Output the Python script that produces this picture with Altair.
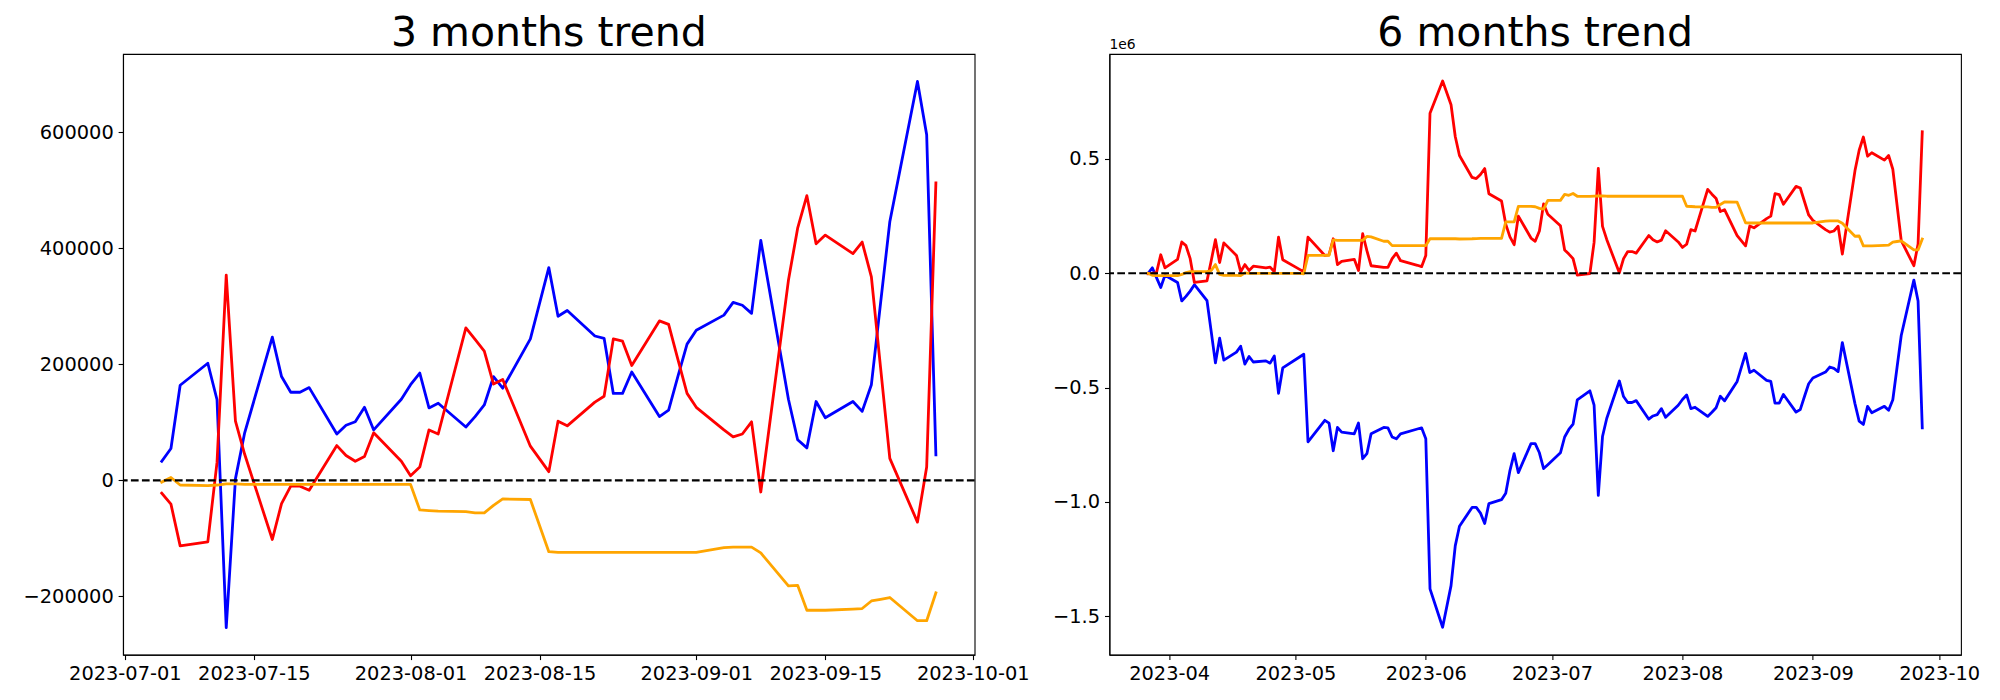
import altair as alt
import pandas as pd

# ---------------- 3 months (values in units) ----------------
days_3m = {
    "2023-07": [5, 6, 7, 10, 11, 12, 13, 14, 17, 18, 19, 20, 21, 24, 25, 26, 27, 28, 31],
    "2023-08": [1, 2, 3, 4, 7, 8, 9, 10, 11, 14, 16, 17, 18, 21, 22, 23, 24, 25, 28, 29, 30, 31],
    "2023-09": [1, 4, 5, 6, 7, 8, 11, 12, 13, 14, 15, 18, 19, 20, 21, 22, 25, 26, 27],
}
blue_3m_k = [33, 55, 164, 202, 139, -254, 3, 82, 247, 179, 152, 152, 160, 80, 95, 101, 126, 87, 140,
             165, 185, 125, 133, 92, 110, 130, 179, 159, 244, 367, 283, 293, 249, 245, 150, 150, 187, 110, 121, 179, 235,
             259, 285, 307, 302, 288, 414, 140, 70, 56, 136, 108, 136, 119, 165, 306, 446, 688, 596, 44]
red_3m_k = [-22, -41, -113, -106, 31, 354, 102, 45, -102, -40, -10, -10, -17, 60, 43, 33, 41, 82, 33,
            8, 23, 87, 80, 263, 243, 223, 166, 174, 59, 15, 102, 94, 135, 145, 244, 240, 198, 275, 269, 209, 150,
            126, 87, 75, 80, 101, -20, 345, 435, 491, 408, 423, 391, 411, 351, 194, 38, -72, 23, 513]
orange_3m_k = [-3, 5, -8, -9, -8, -6, -6, -7, -7, -7, -7, -7, -7, -7, -7, -7, -7, -7, -7,
               -7, -51, -52, -53, -54, -56, -56, -43, -32, -33, -123, -124, -124, -124, -124, -124, -124, -124, -124, -124, -124, -124,
               -124, -116, -115, -115, -115, -125, -182, -181, -224, -224, -224, -222, -221, -208, -205, -202, -242, -242, -194]
yticks_3m = [-200000, 0, 200000, 400000, 600000]
xticks_3m = ["2023-07-01", "2023-07-15", "2023-08-01", "2023-08-15", "2023-09-01", "2023-09-15", "2023-10-01"]

# ---------------- 6 months (values in 1e6) ----------------
days_6m = {
    "2023-03": [27, 28, 29, 30, 31],
    "2023-04": [3, 4, 5, 6, 7, 10, 11, 12, 13, 14, 17, 18, 19, 20, 21, 24, 25, 26, 27, 28],
    "2023-05": [2, 3, 4, 8, 9, 10, 11, 12, 15, 16, 17, 18, 19, 22, 23, 24, 25, 26, 30, 31],
    "2023-06": [1, 2, 5, 7, 8, 9, 12, 13, 14, 15, 16, 19, 20, 21, 22, 23, 26, 27, 28, 29, 30],
    "2023-07": [3, 4, 5, 6, 7, 10, 11, 12, 13, 14, 17, 18, 19, 20, 21, 24, 25, 26, 27, 28, 31],
    "2023-08": [1, 2, 3, 4, 7, 8, 9, 10, 11, 14, 16, 17, 18, 21, 22, 23, 24, 25, 28, 29, 30, 31],
    "2023-09": [1, 4, 5, 6, 7, 8, 11, 12, 13, 14, 15, 18, 19, 20, 21, 22, 25, 26, 27],
}
blue_6m = [0.000, 0.024, -0.019, -0.062, -0.009,
           -0.040, -0.121, -0.101, -0.078, -0.050, -0.120, -0.255, -0.392, -0.284, -0.380, -0.345, -0.319, -0.397, -0.364, -0.388, -0.383, -0.393, -0.362, -0.525, -0.414,
           -0.366, -0.354, -0.737, -0.643, -0.655, -0.776, -0.674, -0.695, -0.702, -0.655, -0.811, -0.789, -0.702, -0.674, -0.676, -0.716, -0.724, -0.702, -0.681, -0.676,
           -0.724, -1.380, -1.548, -1.366, -1.192, -1.106, -1.024, -1.024, -1.049, -1.094, -1.007, -0.990, -0.962, -0.863, -0.789, -0.872, -0.745, -0.745, -0.785, -0.854, -0.837,
           -0.785, -0.716, -0.683, -0.660, -0.554, -0.514, -0.577, -0.971, -0.714, -0.635, -0.471, -0.539, -0.565, -0.565, -0.557, -0.638, -0.624, -0.618, -0.592, -0.630, -0.577,
           -0.552, -0.532, -0.592, -0.586, -0.626, -0.608, -0.588, -0.538, -0.558, -0.473, -0.350, -0.434, -0.424, -0.468, -0.473, -0.568, -0.568, -0.530, -0.607, -0.596, -0.539, -0.483,
           -0.458, -0.432, -0.410, -0.416, -0.430, -0.303, -0.570, -0.647, -0.661, -0.582, -0.610, -0.582, -0.599, -0.553, -0.412, -0.272, -0.030, -0.121, -0.676]
red_6m = [-0.002, 0.000, 0.003, 0.081, 0.024,
          0.061, 0.137, 0.121, 0.064, -0.040, -0.033, 0.055, 0.147, 0.047, 0.133, 0.078, 0.007, 0.038, 0.012, 0.031, 0.024, 0.027, 0.007, 0.158, 0.059,
          0.017, 0.007, 0.158, 0.078, 0.081, 0.151, 0.038, 0.052, 0.061, 0.012, 0.173, 0.099, 0.033, 0.026, 0.026, 0.064, 0.088, 0.055, 0.035, 0.029,
          0.078, 0.700, 0.841, 0.737, 0.598, 0.515, 0.419, 0.414, 0.432, 0.458, 0.348, 0.316, 0.215, 0.159, 0.125, 0.250, 0.154, 0.140, 0.185, 0.303, 0.258,
          0.208, 0.102, 0.084, 0.064, -0.008, -0.001, 0.135, 0.459, 0.205, 0.148, 0.002, 0.064, 0.095, 0.095, 0.088, 0.165, 0.147, 0.137, 0.145, 0.186, 0.137,
          0.113, 0.127, 0.191, 0.185, 0.367, 0.346, 0.327, 0.270, 0.278, 0.165, 0.120, 0.207, 0.199, 0.239, 0.250, 0.348, 0.344, 0.302, 0.380, 0.373, 0.314, 0.255,
          0.231, 0.191, 0.180, 0.185, 0.206, 0.084, 0.448, 0.538, 0.596, 0.512, 0.527, 0.495, 0.515, 0.455, 0.299, 0.143, 0.033, 0.128, 0.619]
orange_6m = [0.000, -0.009, -0.010, -0.010, -0.010,
             -0.010, -0.005, 0.003, 0.007, 0.007, 0.007, 0.012, 0.038, -0.005, -0.009, -0.009, -0.010, 0.002, 0.000, 0.000, 0.000, 0.000, 0.000, 0.000, 0.000,
             0.000, -0.002, 0.078, 0.078, 0.078, 0.146, 0.144, 0.144, 0.144, 0.144, 0.144, 0.161, 0.159, 0.140, 0.140, 0.121, 0.121, 0.121, 0.121, 0.121,
             0.121, 0.151, 0.152, 0.151, 0.151, 0.150, 0.151, 0.152, 0.153, 0.153, 0.153, 0.153, 0.225, 0.225, 0.225, 0.293, 0.293, 0.291, 0.284, 0.281, 0.319,
             0.319, 0.345, 0.341, 0.349, 0.337, 0.336, 0.337, 0.338, 0.338, 0.337, 0.337, 0.337, 0.337, 0.337, 0.337, 0.337, 0.337, 0.337, 0.337, 0.337, 0.337,
             0.337, 0.293, 0.292, 0.291, 0.290, 0.288, 0.288, 0.301, 0.312, 0.311, 0.221, 0.220, 0.220, 0.220, 0.220, 0.220, 0.220, 0.220, 0.220, 0.220, 0.220, 0.220,
             0.220, 0.228, 0.229, 0.229, 0.229, 0.219, 0.162, 0.163, 0.120, 0.120, 0.120, 0.122, 0.123, 0.136, 0.139, 0.142, 0.102, 0.102, 0.150]
yticks_6m = [-1.5, -1.0, -0.5, 0.0, 0.5]
xticks_6m = ["2023-04-01", "2023-05-01", "2023-06-01", "2023-07-01", "2023-08-01", "2023-09-01", "2023-10-01"]

series_colors = {"blue": "#0000ff", "red": "#ff0000", "orange": "#ffa500"}

FONT = "DejaVu Sans"
PW, PH = 851.6, 600.7
LW = 2.8


def dates_from(spec):
    return [f"{m}-{d:02d}T00:00:00" for m, ds in spec.items() for d in ds]


def dt(s, h=0, mi=0):
    y, m, d = (int(v) for v in s.split("-"))
    return alt.DateTime(year=y, month=m, date=d, hours=h, minutes=mi)


def panel(dates, series, ydom, xdom, xticks, xfmt, yticks, yfmt, title, e6_opacity, ymin_extent):
    layers = []
    xenc = alt.X(
        "date:T",
        scale=alt.Scale(domain=xdom),
        axis=alt.Axis(values=[dt(t) for t in xticks], format=xfmt, title=None,
                      labelOverlap=False, labelFlush=False),
    )
    yenc = alt.Y(
        "value:Q",
        scale=alt.Scale(domain=ydom, nice=False, zero=False),
        axis=alt.Axis(values=yticks, format=yfmt, title=None, minExtent=ymin_extent),
    )
    for name, vals in series:
        assert len(vals) == len(dates), (name, len(vals), len(dates))
        df = pd.DataFrame({"date": dates, "value": vals, "series": name})
        layers.append(
            alt.Chart(df).mark_line(color=series_colors[name], strokeWidth=LW,
                                    strokeJoin="round", strokeCap="square").encode(
                x=xenc, y=yenc
            )
        )
    zero = alt.Chart(pd.DataFrame({"value": [0]})).mark_rule(
        color="black", strokeWidth=2.1, strokeDash=[7.7, 3.3]
    ).encode(y=alt.Y("value:Q"))
    layers.append(zero)
    e6 = alt.Chart(pd.DataFrame({"t": ["1e6"]})).mark_text(
        align="left", baseline="alphabetic", fontSize=13.9, font=FONT, color="black",
        opacity=e6_opacity,
    ).encode(x=alt.value(0), y=alt.value(-5), text="t:N")
    layers.append(e6)
    return alt.layer(*layers).properties(
        width=PW, height=PH,
        title=alt.TitleParams(text=title, fontSize=41, font=FONT, fontWeight="normal",
                              color="black", anchor="middle", frame="group", offset=-17),
    )


d3 = dates_from(days_3m)
d6 = dates_from(days_6m)

left = panel(
    d3,
    [("blue", [v * 1000 for v in blue_3m_k]), ("red", [v * 1000 for v in red_3m_k]),
     ("orange", [v * 1000 for v in orange_3m_k])],
    [-300600, 735300],
    [dt("2023-06-30", 19, 12), dt("2023-10-01", 4, 48)],
    xticks_3m, "%Y-%m-%d", yticks_3m, "d", "3 months trend", 0, 10,
)
right = panel(
    d6,
    [("blue", blue_6m), ("red", red_6m), ("orange", orange_6m)],
    [-1.668, 0.959],
    [dt("2023-03-17", 19, 12), dt("2023-10-06", 4, 48)],
    xticks_6m, "%Y-%m", yticks_6m, ".1f", "6 months trend", 1, 10,
)

chart = alt.hconcat(left, right, spacing=134.4, bounds="flush").properties(
    padding={"left": 14, "top": 4, "right": 0, "bottom": 0},
    background="white",
).configure_view(
    stroke="black", strokeWidth=1.1
).configure_axis(
    domainColor="black", domainWidth=1.1, tickColor="black", tickWidth=1.1,
    tickSize=4.9, labelPadding=4.9, labelFont=FONT, labelFontSize=19.4,
    labelColor="black", grid=False,
)

chart.save("out.html", embed_options={"renderer": "svg", "actions": False})
